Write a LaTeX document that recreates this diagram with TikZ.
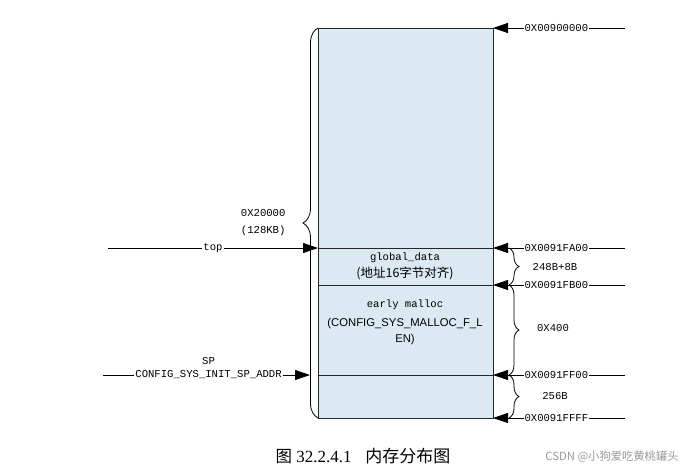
\documentclass[tikz,border=0pt]{standalone}
\usepackage{fontspec}
\setmainfont{Liberation Serif}
\setsansfont{Liberation Sans}
\setmonofont{Liberation Mono}
\newfontfamily\cjk{Noto Sans CJK SC}
\usetikzlibrary{arrows.meta,decorations.pathreplacing,positioning}

\definecolor{memblue}{RGB}{219,234,242}

\tikzset{
    memline/.style={draw=black!85, line width=0.9pt},
    ptr/.style={line width=0.9pt, -{Triangle[length=15pt,width=10pt]}},
    addr/.style={fill=white, inner sep=1pt, font=\ttfamily\fontsize{10.6}{12}\selectfont},
    sizelbl/.style={font=\ttfamily\fontsize{10.6}{17}\selectfont, align=center},
    brc/.style={decorate, decoration={brace, amplitude=#1}, line width=0.8pt},
}

\begin{document}
\begin{tikzpicture}[x=1pt,y=-1pt]
    \useasboundingbox (0,0) rectangle (694,472);

    % Memory block
    \fill[memblue] (318,28) rectangle (493,418);
    \draw[memline] (318,28) rectangle (493,418);
    \foreach \y in {248,285,375}
        \draw[memline] (318,\y) -- (493,\y);

    % Texts inside the block
    \node[font=\ttfamily\fontsize{10.6}{12}\selectfont] (gd) at (405,258) {global\_data};
    \node[font=\cjk\fontsize{12.5}{14}\selectfont] (gdnote) at (405,273) {(地址16字节对齐)};
    \node[font=\ttfamily\fontsize{10.6}{12}\selectfont] (em) at (405,305) {early malloc};
    \node[font=\sffamily\fontsize{11.3}{16}\selectfont, align=center, anchor=north] (emnote) at (405,315)
        {(CONFIG\_SYS\_MALLOC\_F\_L\\EN)};

    % Address pointers on the right
    \foreach \i/\y/\txt in {0/28/0X00900000, 1/248/0X0091FA00, 2/285/0X0091FB00,
                            3/375/0X0091FF00, 4/418/0X0091FFFF} {
        \coordinate (e\i) at (625,\y);
        \coordinate (r\i) at (493,\y);
        \draw[ptr] (e\i) -- (r\i) node[addr, pos=0.52] (a\i) {\txt};
    }

    % Size braces on the right
    \draw[brc=10pt] (509,248) -- (509,285);
    \draw[brc=10pt] (509,285) -- (509,375);
    \draw[brc=10pt] (509,375) -- (509,418);
    \node[sizelbl] (s1) at (555,267) {248B+8B};
    \node[sizelbl] (s2) at (553,328) {0X400};
    \node[sizelbl] (s3) at (555,396) {256B};

    % Whole region brace on the left
    \draw[brc=15pt] (318,418) -- (318,28);
    \node[sizelbl, anchor=east] (s0) at (289,223) {0X20000\\(128KB)};

    % Pointers on the left
    \coordinate (topstart) at (108,248);
    \coordinate (topend) at (318,248);
    \draw[ptr] (topstart) -- (topend) node[addr, pos=0.5] (top) {top};

    \coordinate (spstart) at (103,375);
    \coordinate (spend) at (310,375);
    \draw[ptr] (spstart) -- (spend) node[addr, pos=0.51] (spaddr) {CONFIG\_SYS\_INIT\_SP\_ADDR};
    \node[sizelbl, above=1pt of spaddr] (sp) {SP};

    % Caption and watermark
    \node (cap) at (363,456) {\fontsize{16.5}{18}\selectfont\cjk 图\normalfont\fontsize{17}{18}\selectfont{} 32.2.4.1\hspace{0.8em}\cjk 内存分布图};
    \node[text=black!40, font=\cjk\fontsize{11.3}{13}\selectfont] (wm) at (612,457) {CSDN @小狗爱吃黄桃罐头};
\end{tikzpicture}
\end{document}
